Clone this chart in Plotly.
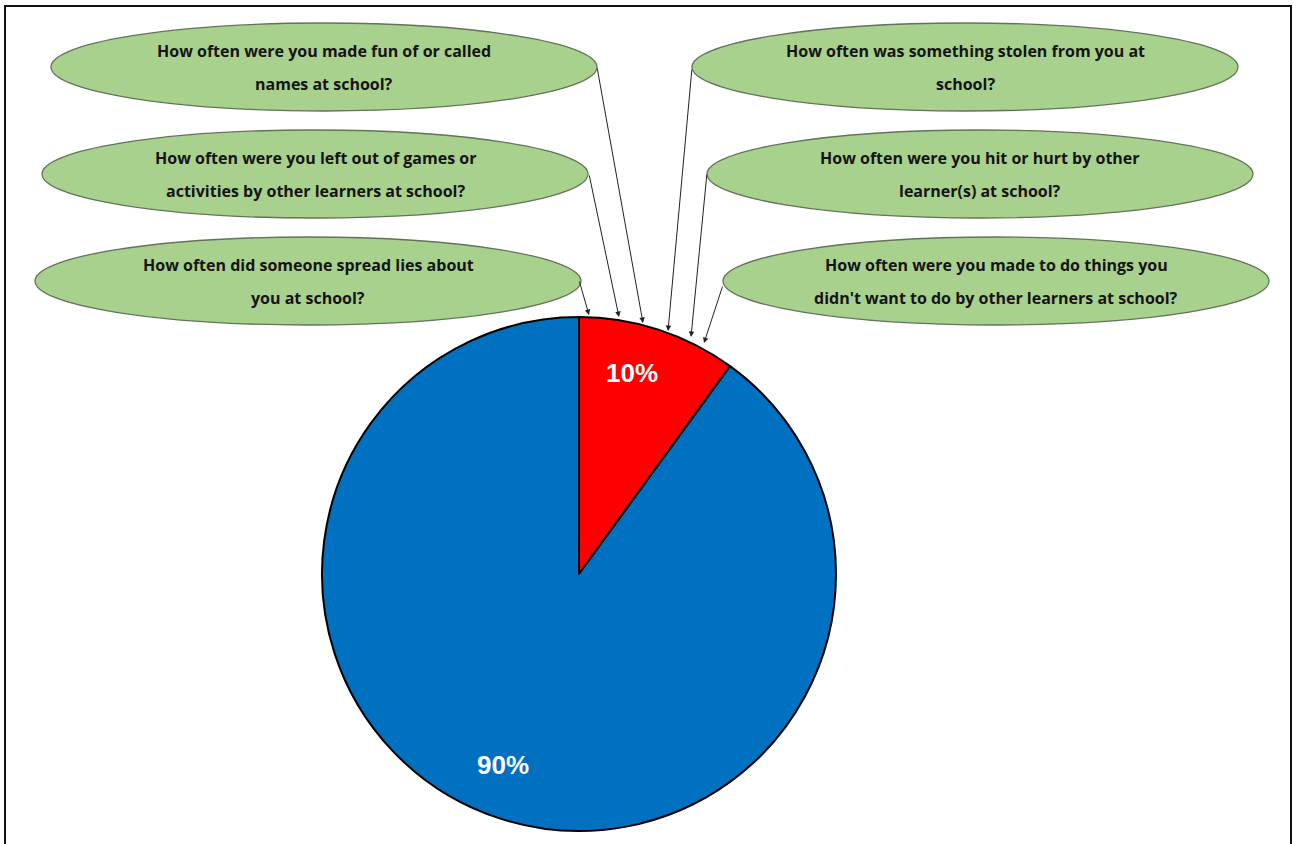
import plotly.graph_objects as go

# Pie data
slice_labels = ["Bullied", "Not bullied"]
slice_values = [10, 90]
slice_colors = ["#FF0000", "#0070C0"]

# Survey questions shown in the callout bubbles (two lines each)
left_questions = [
    ["How often were you made fun of or called", "names at school?"],
    ["How often were you left out of games or", "activities by other learners at school?"],
    ["How often did someone spread lies about", "you at school?"],
]
right_questions = [
    ["How often was something stolen from you at", "school?"],
    ["How often were you hit or hurt by other", "learner(s) at school?"],
    ["How often were you made to do things you", "didn't want to do by other learners at school?"],
]

W, H = 1293, 844
PIE_CX, PIE_CY, PIE_R = 579, 574, 257

# Bubble geometry (centre x, centre y), half-width, half-height
left_centres = [(324, 67), (315, 174), (308, 281)]
right_centres = [(965, 67), (980, 174), (996, 281)]
RX, RY = 273, 44
LINE_GAP = 16.5

# Arrow tails on the bubbles and heads on the pie rim
left_tails = [(597, 67), (589, 174), (579, 280)]
left_heads = [(643, 323), (619, 317), (589, 315)]
right_tails = [(692, 68), (707, 173), (723, 285)]
right_heads = [(668, 331), (691, 337), (704, 343)]

fig = go.Figure()

fig.add_trace(go.Pie(
    labels=slice_labels,
    values=slice_values,
    sort=False,
    direction="clockwise",
    rotation=0,
    marker=dict(colors=slice_colors, line=dict(color="#000000", width=2)),
    textinfo="none",
    hoverinfo="label+percent",
    showlegend=False,
    domain=dict(
        x=[(PIE_CX - PIE_R) / W, (PIE_CX + PIE_R) / W],
        y=[(H - PIE_CY - PIE_R) / H, (H - PIE_CY + PIE_R) / H],
    ),
))

shapes = []
annotations = []

# Outer frame
shapes.append(dict(type="rect", xref="x", yref="y", x0=5, y0=6, x1=1291, y1=860,
                   line=dict(color="#111111", width=2), fillcolor="rgba(0,0,0,0)"))

text_font = dict(family="Open Sans, sans-serif", size=16, color="#141414")

for centres, questions in ((left_centres, left_questions), (right_centres, right_questions)):
    for (cx, cy), lines in zip(centres, questions):
        shapes.append(dict(type="circle", xref="x", yref="y",
                           x0=cx - RX, x1=cx + RX, y0=cy - RY, y1=cy + RY,
                           fillcolor="#A9D18E", line=dict(color="#62735a", width=1.3),
                           layer="below"))
        for k, line in enumerate(lines):
            annotations.append(dict(
                x=cx, y=cy - LINE_GAP + 2 * LINE_GAP * k, xref="x", yref="y",
                text="<b>" + line + "</b>", showarrow=False, font=text_font,
                xanchor="center", yanchor="middle"))

for tails, heads in ((left_tails, left_heads), (right_tails, right_heads)):
    for (tx, ty), (hx, hy) in zip(tails, heads):
        annotations.append(dict(
            x=hx, y=hy, ax=tx, ay=ty, xref="x", yref="y", axref="x", ayref="y",
            text="", showarrow=True, arrowhead=2, arrowsize=1.1, arrowwidth=1,
            arrowcolor="#222222", standoff=0))

# Percentage labels inside the slices
total = sum(slice_values)
pct_positions = [(632, 373), (503, 765)]
for v, (px, py) in zip(slice_values, pct_positions):
    annotations.append(dict(
        x=px, y=py, xref="x", yref="y",
        text="<b>%d%%</b>" % round(v / total * 100), showarrow=False,
        font=dict(family="Liberation Sans, Arial, sans-serif", size=26, color="#FFFFFF"),
        xanchor="center", yanchor="middle"))

fig.update_layout(
    width=W, height=H,
    margin=dict(l=0, r=0, t=0, b=0),
    paper_bgcolor="#FFFFFF", plot_bgcolor="rgba(0,0,0,0)",
    xaxis=dict(range=[0, W], visible=False, fixedrange=True, domain=[0, 1]),
    yaxis=dict(range=[H, 0], visible=False, fixedrange=True, domain=[0, 1]),
    shapes=shapes, annotations=annotations,
)

fig.write_html("out.html")
